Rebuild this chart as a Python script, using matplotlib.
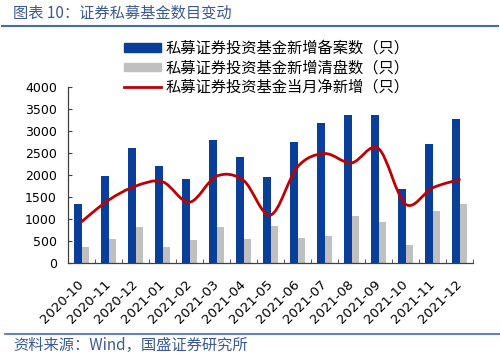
import numpy as np
import matplotlib
matplotlib.use("Agg")
import matplotlib.pyplot as plt
from matplotlib.path import Path
from matplotlib.patches import PathPatch, Patch
from matplotlib.lines import Line2D

plt.rcParams['font.family'] = ['DejaVu Sans', 'Noto Sans CJK SC']

months = ['2020-10', '2020-11', '2020-12', '2021-01', '2021-02', '2021-03', '2021-04',
          '2021-05', '2021-06', '2021-07', '2021-08', '2021-09', '2021-10', '2021-11', '2021-12']
filed = [1325, 1966, 2601, 2208, 1898, 2782, 2404, 1951, 2745, 3175, 3364, 3357, 1671, 2707, 3258]
cleared = [364, 544, 816, 363, 522, 810, 537, 840, 560, 605, 1066, 923, 394, 1172, 1338]
net_new = [930, 1420, 1740, 1840, 1375, 1966, 1870, 1082, 2177, 2480, 2268, 2594, 1330, 1700, 1890]

label_filed = '私募证券投资基金新增备案数（只）'
label_cleared = '私募证券投资基金新增清盘数（只）'
label_net = '私募证券投资基金当月净新增（只）'

BLUE = '#0a3f99'
GRAY = '#c0c0c0'
RED = '#c00000'
TXT_BLUE = '#3b5a94'
CJK = ['Noto Sans CJK SC', 'DejaVu Sans']

fig = plt.figure(figsize=(5.0, 3.54), dpi=100)
ax = fig.add_axes([0.136, 0.258, 0.81, 0.497])

x = np.arange(len(months))
w = 0.28
ax.bar(x - w / 2, filed, width=w, color=BLUE, zorder=2)
ax.bar(x + w / 2, cleared, width=w, color=GRAY, zorder=2)

# smooth line like excel: bezier segments through the monthly points
pts = np.column_stack([x, net_new]).astype(float)
verts = [tuple(pts[0])]
codes = [Path.MOVETO]
n = len(pts)
for i in range(n - 1):
    p0 = pts[max(i - 1, 0)]
    p1 = pts[i]
    p2 = pts[i + 1]
    p3 = pts[min(i + 2, n - 1)]
    c1 = p1 + (p2 - p0) / 6
    c2 = p2 - (p3 - p1) / 6
    verts += [tuple(c1), tuple(c2), tuple(p2)]
    codes += [Path.CURVE4] * 3
ax.add_patch(PathPatch(Path(verts, codes), fill=False, edgecolor=RED, lw=2.0,
                       capstyle='round', zorder=3))

ax.set_xlim(-0.5, len(months) - 0.5)
ax.set_ylim(0, 4000)
ax.set_yticks(range(0, 4001, 500))
ax.tick_params(axis='y', direction='in', length=3, labelsize=9, pad=8, color='#404040')

ax.set_xticks(x)
ax.set_xticklabels(months, rotation=45, ha='right', va='center', rotation_mode='anchor')
ax.tick_params(axis='x', which='major', length=0, labelsize=9.5, pad=14)
ax.set_xticks(np.arange(-0.5, len(months)), minor=True)
ax.tick_params(axis='x', which='minor', direction='in', length=3, color='#404040')

for s in ['top', 'right']:
    ax.spines[s].set_visible(False)
for s in ['left', 'bottom']:
    ax.spines[s].set_color('#404040')
    ax.spines[s].set_linewidth(0.9)

handles = [Patch(color=BLUE), Patch(color=GRAY), Line2D([], [], color=RED, lw=2.0)]
fig.legend(handles, [label_filed, label_cleared, label_net], loc='upper left',
           bbox_to_anchor=(0.236, 0.905), frameon=False, prop={'family': CJK, 'size': 11},
           handlelength=2.4, handleheight=0.5, handletextpad=0.3, labelspacing=0.17,
           borderaxespad=0)

fig.text(0.026, 0.962, '图表 10：证券私募基金数目变动', family=CJK, fontsize=11,
         color=TXT_BLUE, va='center', ha='left')
fig.add_artist(Line2D([0.004, 0.996], [0.927, 0.927], color='#3c6eb4', lw=1.5))
fig.add_artist(Line2D([0.01, 1.0], [0.057, 0.057], color='#3c6eb4', lw=1.2))
fig.text(0.026, 0.025, '资料来源：Wind，国盛证券研究所', family=CJK, fontsize=11,
         color=TXT_BLUE, va='center', ha='left')

fig.savefig('out.png', dpi=100)
